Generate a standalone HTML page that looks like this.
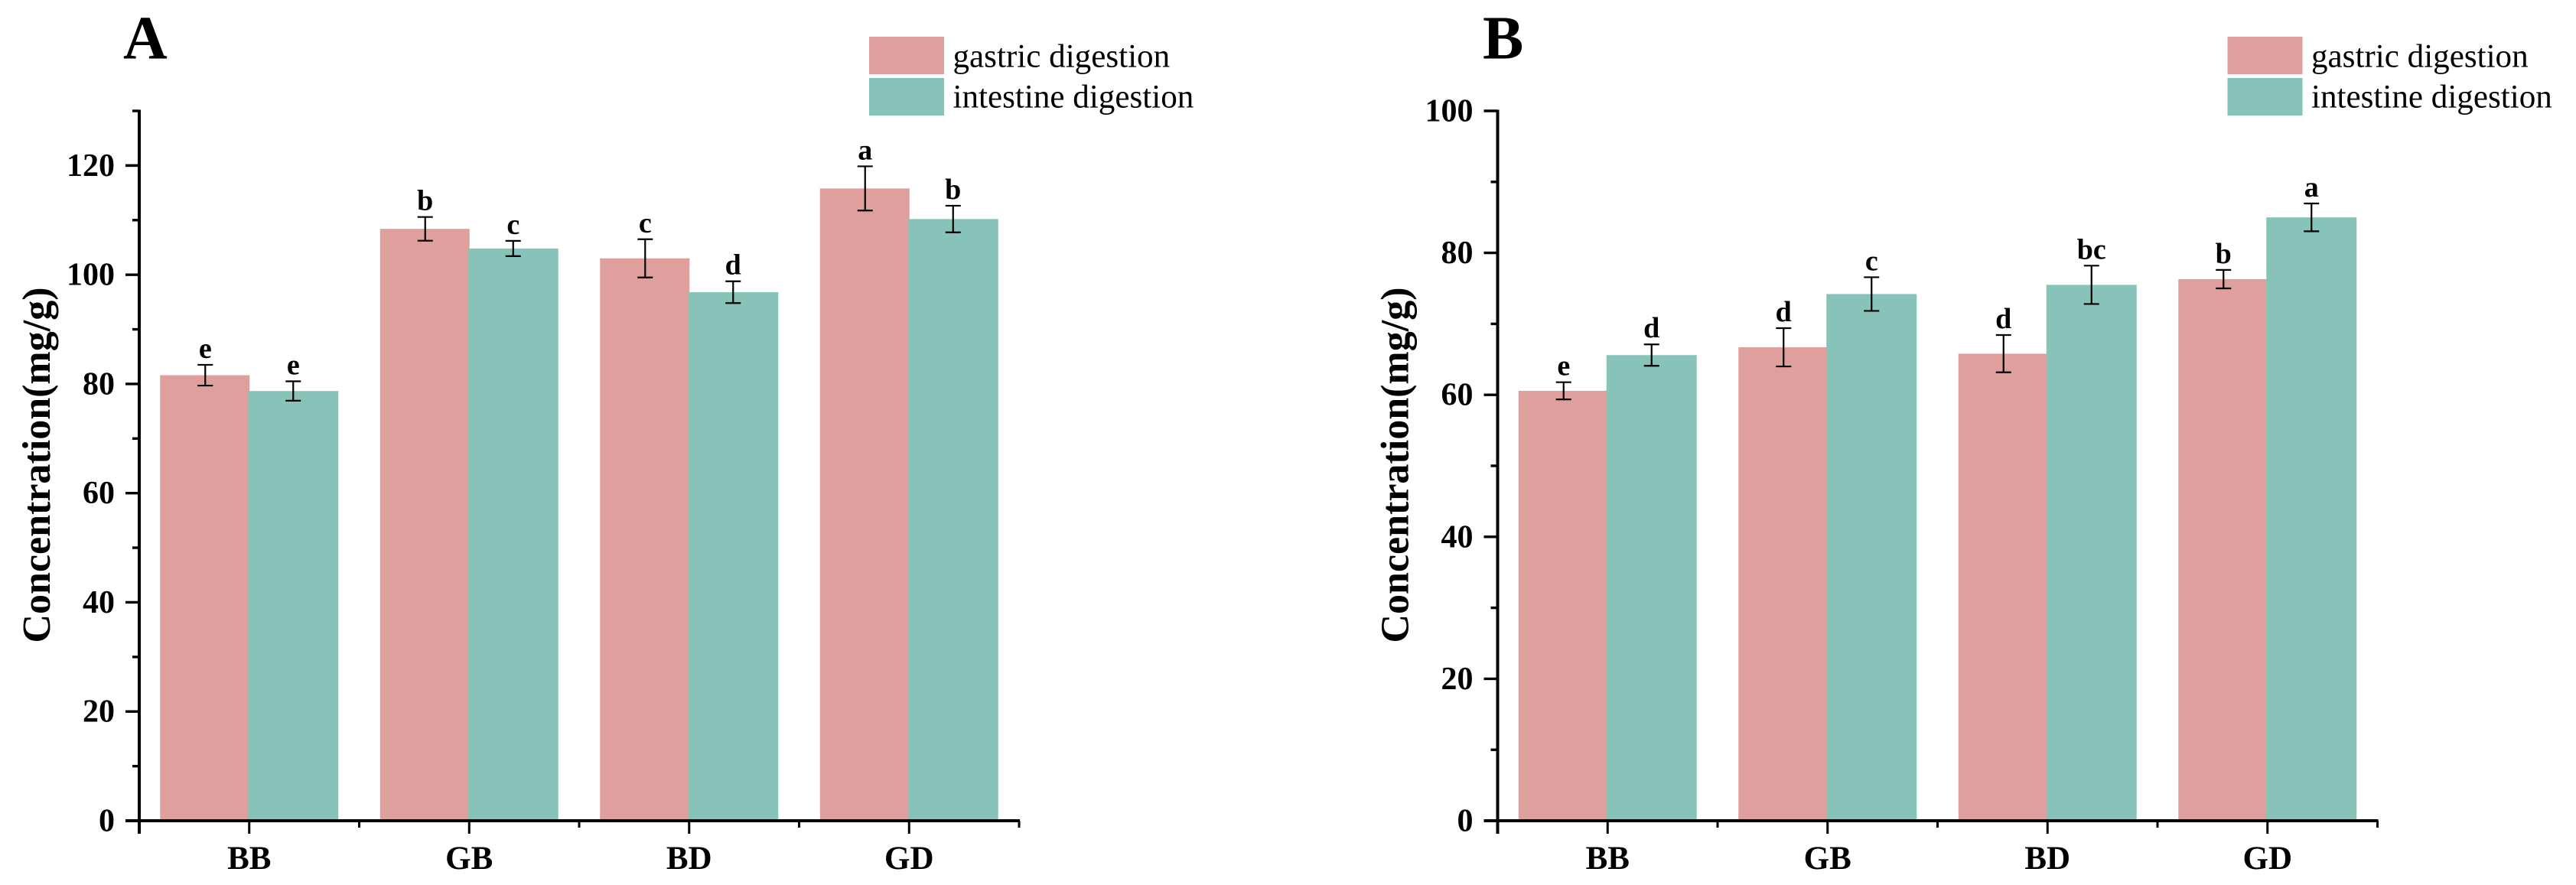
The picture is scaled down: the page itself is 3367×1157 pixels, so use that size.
<!DOCTYPE html>
<html>
<head>
<meta charset="utf-8">
<title>Concentration by digestion phase</title>
<style>
html,body{margin:0;padding:0;background:#fff;}
svg{display:block;}
text{font-family:"Liberation Serif",serif;fill:#000;}
</style>
</head>
<body>
<svg id="fig" xmlns="http://www.w3.org/2000/svg" width="3367" height="1157" viewBox="0 0 3367 1157"></svg>
<script>
var categories = ["BB", "GB", "BD", "GD"];
var seriesNames = ["gastric digestion", "intestine digestion"];

var gastricA = [81.6, 108.4, 103.0, 115.8];
var intestineA = [78.7, 104.8, 96.8, 110.2];
var gastricErrA = [1.9, 2.17, 3.5, 4.05];
var intestineErrA = [1.78, 1.4, 2.0, 2.44];
var gastricLettersA = ["e", "b", "c", "a"];
var intestineLettersA = ["e", "c", "d", "b"];
var majorTicksA = [0, 20, 40, 60, 80, 100, 120];
var minorTicksA = [10, 30, 50, 70, 90, 110, 130];
var yMaxA = 130;

var gastricB = [60.57, 66.7, 65.8, 76.3];
var intestineB = [65.6, 74.2, 75.5, 85.0];
var gastricErrB = [1.21, 2.7, 2.63, 1.3];
var intestineErrB = [1.51, 2.37, 2.7, 1.96];
var gastricLettersB = ["e", "d", "d", "b"];
var intestineLettersB = ["d", "c", "bc", "a"];
var majorTicksB = [0, 20, 40, 60, 80, 100];
var minorTicksB = [10, 30, 50, 70, 90];
var yMaxB = 100;

var PINK = "#df9f9c";
var TEAL = "#87c3b8";
var NS = "http://www.w3.org/2000/svg";
var fig = document.getElementById("fig");

function make(parent, tag, attrs, content) {
  var n = document.createElementNS(NS, tag);
  for (var k in attrs) { n.setAttribute(k, attrs[k]); }
  if (content !== undefined) { n.textContent = content; }
  parent.appendChild(n);
  return n;
}

function drawPanel(ox, label, labelX, yMax, major, minor, gastric, intestine, gErr, iErr, gLetters, iLetters) {
  var axisX = ox + 182, axisEnd = ox + 1332, y0 = 1073, yTop = 145;
  var groupStep = (axisEnd - axisX) / categories.length;
  function yScale(v) { return y0 - (y0 - yTop) * v / yMax; }
  function xCenter(i) { return axisX + groupStep * (i + 0.5); }

  var panel = make(fig, "g", {});
  
  

  var title = make(panel, "text", {x: labelX, y: 76.5, "font-size": 80, "font-weight": "bold"}, label);
  
  

  var series = [
    {vals: gastric, errs: gErr, letters: gLetters, color: PINK, dir: -1, key: 'gastric', start: -116.5, w: 117},
    {vals: intestine, errs: iErr, letters: iLetters, color: TEAL, dir: 1, key: 'intestine', start: -1.5, w: 118}
  ];

  series.forEach(function (s) {
    s.vals.forEach(function (v, i) {
      var cx = xCenter(i);
      var bar = make(panel, "rect", {x: cx + s.start, y: yScale(v), width: s.w, height: y0 - yScale(v), fill: s.color});
      
      
    });
  });

  series.forEach(function (s) {
    s.vals.forEach(function (v, i) {
      var ex = xCenter(i) + s.dir * 57.5;
      var top = yScale(v + s.errs[i]), bot = yScale(v - s.errs[i]);
      var err = make(panel, "path", {
        d: "M" + (ex - 10) + " " + top + "H" + (ex + 10) + "M" + ex + " " + top + "V" + bot + "M" + (ex - 10) + " " + bot + "H" + (ex + 10),
        stroke: "#000", "stroke-width": 2.2, fill: "none"
      });
      
      
      var sig = make(panel, "text", {x: ex, y: top - 9, "font-size": 38, "font-weight": "bold", "text-anchor": "middle"}, s.letters[i]);
      
      
    });
  });

  var yAxis = make(panel, "path", {d: "M" + axisX + " " + (yTop - 1.5) + "V" + (y0 + 17), stroke: "#000", "stroke-width": 4, fill: "none"});
  
  

  var xAxis = make(panel, "path", {d: "M" + (axisX - 18) + " " + y0 + "H" + (axisEnd + 1), stroke: "#000", "stroke-width": 4, fill: "none"});
  
  

  major.forEach(function (t) {
    var yy = yScale(t);
    var tick = make(panel, "path", {d: "M" + (axisX - 18) + " " + yy + "H" + axisX, stroke: "#000", "stroke-width": 3.4, fill: "none"});
    
    
    var lbl = make(panel, "text", {x: axisX - 32, y: yy + 13.5, "font-size": 42, "font-weight": "bold", "text-anchor": "end"}, String(t));
    
    
  });

  minor.forEach(function (t) {
    var yy = yScale(t);
    var tick = make(panel, "path", {d: "M" + (axisX - 9) + " " + yy + "H" + axisX, stroke: "#000", "stroke-width": 3.4, fill: "none"});
    
    
  });

  categories.forEach(function (c, i) {
    var cx = xCenter(i);
    var tick = make(panel, "path", {d: "M" + cx + " " + y0 + "V" + (y0 + 17), stroke: "#000", "stroke-width": 3, fill: "none"});
    
    
    var minorTick = make(panel, "path", {d: "M" + (axisX + groupStep * (i + 1)) + " " + y0 + "V" + (y0 + 9), stroke: "#000", "stroke-width": 3, fill: "none"});
    
    
    var lbl = make(panel, "text", {x: cx, y: 1136, "font-size": 43, "font-weight": "bold", "text-anchor": "middle"}, c);
    
    
  });

  var yTitleX = ox + 65, yTitleY = 608;
  var yTitle = make(panel, "text", {
    x: yTitleX, y: yTitleY, "font-size": 52, "font-weight": "bold", "text-anchor": "middle",
    transform: "rotate(-90 " + yTitleX + " " + yTitleY + ")"
  }, "Concentration(mg/g)");
  
  

  var legend = make(panel, "g", {});
  
  
  seriesNames.forEach(function (name, i) {
    var swatch = make(legend, "rect", {x: ox + 1136, y: 48 + 54 * i, width: 98, height: 49, fill: i === 0 ? PINK : TEAL});
    
    
    var txt = make(legend, "text", {x: ox + 1245.5, y: 87.3 + 53.4 * i, "font-size": 43.1}, name);
    
    
  });
}

drawPanel(0, "A", 161, yMaxA, majorTicksA, minorTicksA, gastricA, intestineA, gastricErrA, intestineErrA, gastricLettersA, intestineLettersA);
drawPanel(1775.5, "B", 1938, yMaxB, majorTicksB, minorTicksB, gastricB, intestineB, gastricErrB, intestineErrB, gastricLettersB, intestineLettersB);
</script>
</body>
</html>
